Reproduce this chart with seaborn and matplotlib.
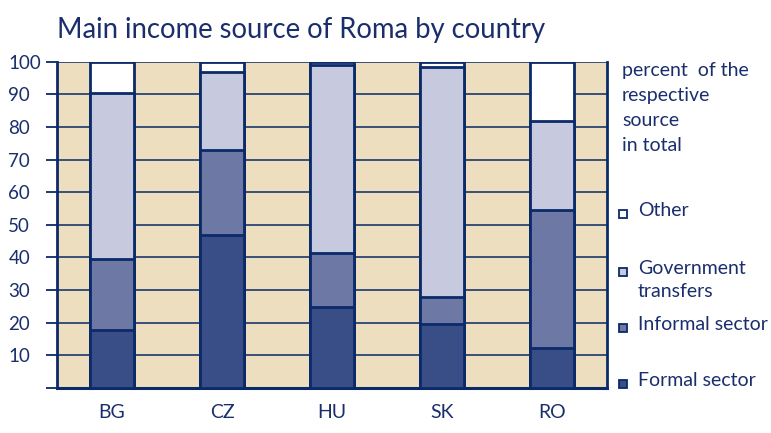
import matplotlib
matplotlib.use("Agg")
import matplotlib.pyplot as plt
import seaborn as sns
import numpy as np
from matplotlib.patches import Rectangle

# data (percent of total income)
countries = ["BG", "CZ", "HU", "SK", "RO"]
formal = [17.7, 46.8, 24.8, 19.4, 12.1]
informal = [21.7, 26.1, 16.4, 8.5, 42.4]
government = [50.9, 24.0, 57.8, 70.4, 27.3]
other = [9.7, 3.1, 1.0, 1.7, 18.2]
yticks = [10, 20, 30, 40, 50, 60, 70, 80, 90, 100]

series_names = ["Formal sector", "Informal sector", "Government\ntransfers", "Other"]
colors = ["#394e86", "#6d79a4", "#c7cadf", "#ffffff"]
navy = "#0b2a6a"
text_c = "#1a2e6c"
bg = "#eddebf"

sns.set_style("white")
plt.rcParams["font.family"] = ["Lato", "DejaVu Sans"]

fig = plt.figure(figsize=(7.71, 4.33), dpi=100)
ax = fig.add_axes([0.0739, 0.1046, 0.7134, 0.7529])
ax.set_facecolor(bg)

# stacked bars: draw cumulative totals from the top layer down
layers = [formal, informal, government, other]
cums = np.cumsum(np.array(layers), axis=0)
for i in range(3, -1, -1):
    sns.barplot(x=countries, y=cums[i], color=colors[i], edgecolor=navy,
                linewidth=2, width=0.395, saturation=1, ax=ax, zorder=3)

ax.set_ylim(0, 100)
ax.set_xlim(-0.5, 4.5)
ax.set_yticks([0] + yticks)
ax.set_yticklabels([""] + [str(t) for t in yticks])
ax.yaxis.grid(True, color="#3a5078", linewidth=1.4)
ax.set_axisbelow(True)

ax.set_xticks(range(len(countries)))
ax.set_xticklabels(countries)
ax.set_xticks(np.arange(-0.5, 4.6, 1), minor=True)
ax.tick_params(axis="x", which="major", length=0, pad=12, labelsize=14, labelcolor=text_c)
ax.tick_params(axis="x", which="minor", length=8, width=1.3, color=navy, direction="out")
ax.tick_params(axis="y", length=8, width=1.3, color=navy, direction="out",
               pad=27, labelsize=13.5, labelcolor=text_c, left=True)
for lab in ax.get_yticklabels():
    lab.set_horizontalalignment("left")

for side in ["left", "right", "bottom"]:
    ax.spines[side].set_visible(True)
    ax.spines[side].set_color(navy)
ax.spines["left"].set_linewidth(2)
ax.spines["right"].set_linewidth(2)
ax.spines["bottom"].set_linewidth(2.2)
ax.spines["top"].set_visible(False)
ax.set_xlabel("")
ax.set_ylabel("")

fig.text(57 / 771, 1 - 30 / 433, "Main income source of Roma by country",
         fontsize=19.8, color=text_c, va="center", ha="left")

fig.text(622 / 771, 1 - 62 / 433, "percent  of the\nrespective\nsource\nin total",
         fontsize=14, color=text_c, va="top", ha="left", linespacing=1.56,
         multialignment="left")

# legend entries (top to bottom): Other, Government, Informal, Formal
leg_y = [211, 280, 325, 381]
for i, y in zip(range(3, -1, -1), leg_y):
    fig.text(638 / 771, 1 - y / 433, series_names[i], fontsize=14,
             color=text_c, va="center", ha="left", linespacing=1.38,
             multialignment="left")
    my = y + 3 if i != 2 else 272
    fig.add_artist(Rectangle((619 / 771, 1 - (my + 4) / 433), 8 / 771, 8 / 433,
                             transform=fig.transFigure, facecolor=colors[i],
                             edgecolor=navy, linewidth=1.3))

fig.savefig("out.png", dpi=100)
